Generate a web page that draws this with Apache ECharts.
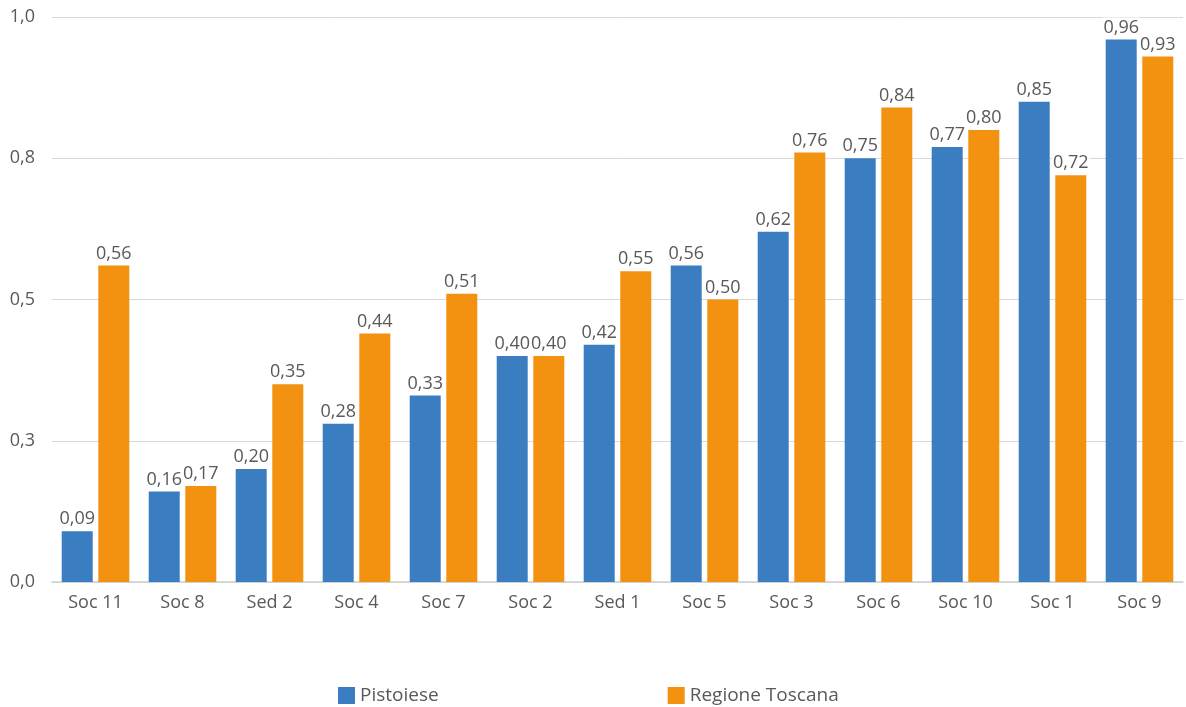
<!DOCTYPE html>
<html>
<head>
<meta charset="utf-8">
<script src="https://cdn.jsdelivr.net/npm/echarts@6/dist/echarts.min.js"></script>
<style>
html,body{margin:0;padding:0;background:#fff;}
#c{width:1186px;height:707px;}
</style>
</head>
<body>
<div id="c"></div>
<script>
const categories = ['Soc 11','Soc 8','Sed 2','Soc 4','Soc 7','Soc 2','Sed 1','Soc 5','Soc 3','Soc 6','Soc 10','Soc 1','Soc 9'];
const pistoiese = [0.09,0.16,0.20,0.28,0.33,0.40,0.42,0.56,0.62,0.75,0.77,0.85,0.96];
const toscana = [0.56,0.17,0.35,0.44,0.51,0.40,0.55,0.50,0.76,0.84,0.80,0.72,0.93];
const seriesNames = ['Pistoiese','Regione Toscana'];

const FONT = '"Open Sans", "Noto Sans", sans-serif';
const fmt2 = p => p.value.toFixed(2).replace('.', ',');
const labelStyle = {
  show: true, position: 'top', distance: 3, formatter: fmt2,
  fontFamily: FONT, fontSize: 18, color: '#595959',
  backgroundColor: '#ffffff', padding: [1, 1, 0, 1]
};
const chart = echarts.init(document.getElementById('c'));
chart.setOption({
  animation: false,
  textStyle: { fontFamily: FONT },
  grid: { left: 52, right: 3, top: 17, bottom: 125 },
  legend: {
    data: seriesNames, left: 333, top: 681, itemWidth: 17, itemHeight: 17,
    itemGap: 229, icon: 'rect',
    textStyle: { fontFamily: FONT, fontSize: 19, color: '#595959' }
  },
  xAxis: {
    type: 'category', data: categories,
    axisLine: { lineStyle: { color: '#d0d0d0', width: 1.5 } },
    axisTick: { show: false },
    axisLabel: { fontFamily: FONT, fontSize: 18, color: '#595959', margin: 12 }
  },
  yAxis: {
    type: 'value', min: 0, max: 1, interval: 0.25,
    axisLine: { show: false }, axisTick: { show: false },
    splitLine: { lineStyle: { color: '#d9d9d9', width: 1 } },
    axisLabel: { fontFamily: FONT, fontSize: 18, color: '#595959', margin: 17,
      formatter: v => v.toFixed(1).replace('.', ',') }
  },
  series: [
    { name: seriesNames[0], type: 'bar', data: pistoiese, barWidth: 31, barGap: '18%',
      itemStyle: { color: '#3a7dc1', borderWidth: 0 }, label: labelStyle, z: 2 },
    { name: seriesNames[1], type: 'bar', data: toscana, barWidth: 31,
      itemStyle: { color: '#f39110', borderWidth: 0 }, label: labelStyle, z: 2 }
  ]
});
</script>
</body>
</html>
